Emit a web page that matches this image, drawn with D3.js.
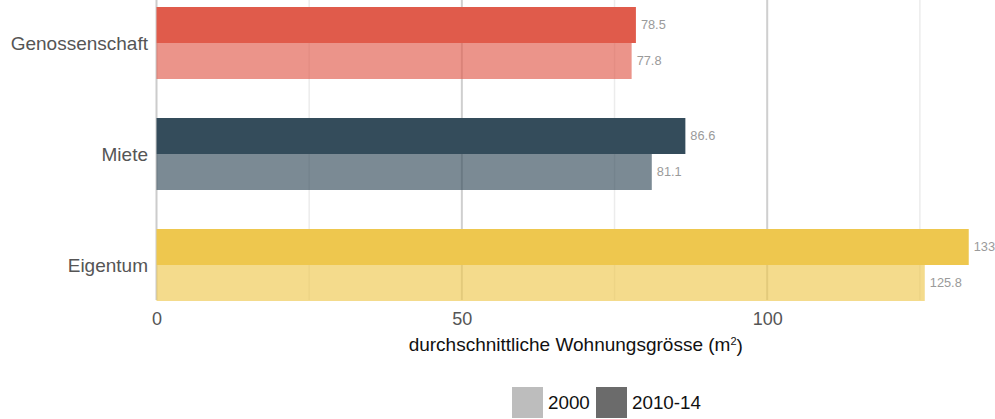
<!DOCTYPE html>
<html>
<head>
<meta charset="utf-8">
<script src="https://cdn.jsdelivr.net/npm/d3@7/dist/d3.min.js"></script>
<style>
  body { margin: 0; background: #fff; }
  text { font-family: "Liberation Sans", Arial, sans-serif; }
</style>
</head>
<body>
<div id="diagramm"></div>
<script>
// daten
const kategorien = ["Genossenschaft", "Miete", "Eigentum"];
const perioden = ["2010-14", "2000"];
const werte_2010_14 = [78.5, 86.6, 133];
const werte_2000 = [77.8, 81.1, 125.8];
const farben = ["#e05b4b", "#344c5b", "#eec74e"];
const haupt_ticks = [0, 50, 100];
const neben_ticks = [25, 75, 125];
const legende = [{ name: "2000", farbe: "#bdbdbd" }, { name: "2010-14", farbe: "#6b6b6b" }];

const breite = 995, hoehe = 419;
const unten = 300; // unterkante des plots

const svg = d3.select("#diagramm")
    .append("svg")
    .attr("width", breite)
    .attr("height", hoehe);

const x = d3.scaleLinear()
    .domain([0, 137.3])
    .range([156.5, 995]);

const y = d3.scaleBand()
    .domain(kategorien)
    .range([-12.5, 320.5])
    .paddingInner(0.3514)
    .paddingOuter(0.1757);

const y_sub = d3.scaleBand()
    .domain(perioden)
    .range([0, y.bandwidth()]);

// gitter
svg.append("g").selectAll("line")
    .data(neben_ticks)
    .join("line")
    .attr("x1", d => x(d)).attr("x2", d => x(d))
    .attr("y1", 0).attr("y2", unten)
    .attr("stroke", "#ececec").attr("stroke-width", 1.5);

svg.append("g").selectAll("line")
    .data(haupt_ticks.slice(1))
    .join("line")
    .attr("x1", d => x(d)).attr("x2", d => x(d))
    .attr("y1", 0).attr("y2", unten)
    .attr("stroke", "#cfcfcf").attr("stroke-width", 2);

svg.append("line")
    .attr("x1", x(0)).attr("x2", x(0))
    .attr("y1", 0).attr("y2", unten)
    .attr("stroke", "#cccccc").attr("stroke-width", 2);

// balken
const reihen = kategorien.map((k, i) => ({
    kategorie: k,
    farbe: farben[i],
    werte: [
        { periode: "2010-14", wert: werte_2010_14[i] },
        { periode: "2000", wert: werte_2000[i] }
    ]
}));

const gruppen = svg.append("g").selectAll("g")
    .data(reihen)
    .join("g")
    .attr("transform", d => `translate(0, ${y(d.kategorie)})`);

gruppen.selectAll("rect")
    .data(d => d.werte.map(w => ({ ...w, farbe: d.farbe })))
    .join("rect")
    .attr("x", x(0))
    .attr("y", d => y_sub(d.periode))
    .attr("width", d => x(d.wert) - x(0))
    .attr("height", y_sub.bandwidth())
    .attr("fill", d => d.farbe)
    .attr("fill-opacity", d => d.periode === "2000" ? 0.65 : 1);

gruppen.selectAll("text")
    .data(d => d.werte)
    .join("text")
    .attr("x", d => x(d.wert) + 5)
    .attr("y", d => y_sub(d.periode) + y_sub.bandwidth() / 2)
    .attr("dy", "0.35em")
    .attr("fill", "#9a9a9a")
    .style("font-size", "12.8px")
    .text(d => d.wert);

// kategorien
svg.append("g").selectAll("text")
    .data(kategorien)
    .join("text")
    .attr("x", 148)
    .attr("y", d => y(d) + y.bandwidth() / 2)
    .attr("dy", "0.35em")
    .attr("text-anchor", "end")
    .attr("fill", "#555")
    .style("font-size", "19px")
    .text(d => d);

// x-achse
const x_achse = svg.append("g")
    .attr("transform", `translate(0, ${unten})`)
    .call(d3.axisBottom(x).tickValues(haupt_ticks).tickSize(0).tickPadding(12));
x_achse.select(".domain").remove();
x_achse.selectAll("text")
    .attr("fill", "#555")
    .style("font-size", "18px")
    .style("font-family", "'Liberation Sans', Arial, sans-serif");

const titel = svg.append("text")
    .attr("x", (x.range()[0] + x.range()[1]) / 2)
    .attr("y", 351)
    .attr("text-anchor", "middle")
    .attr("fill", "#111")
    .style("font-size", "19px");
titel.append("tspan").text("durchschnittliche Wohnungsgrösse (m");
titel.append("tspan").attr("dy", "-0.55em").style("font-size", "11px").text("2");
titel.append("tspan").attr("dy", "0.35em").text(")");

// legende
const leg = svg.append("g").attr("transform", "translate(512, 387)");
const leg_x = [0, 84];
const eintraege = leg.selectAll("g")
    .data(legende)
    .join("g")
    .attr("transform", (d, i) => `translate(${leg_x[i]}, 0)`);
eintraege.append("rect")
    .attr("width", 31).attr("height", 31)
    .attr("fill", d => d.farbe);
eintraege.append("text")
    .attr("x", 36).attr("y", 15.5)
    .attr("dy", "0.35em")
    .attr("fill", "#111")
    .style("font-size", "18.8px")
    .text(d => d.name);
</script>
</body>
</html>
